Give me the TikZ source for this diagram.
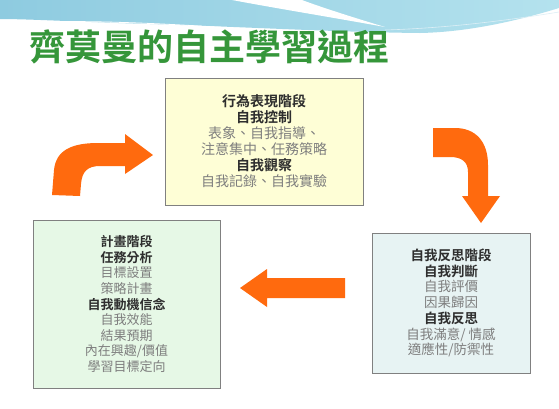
\documentclass[tikz,border=0pt]{standalone}
\usepackage{fontspec}
\newfontfamily\cjk{Noto Sans CJK TC}[BoldFont={Noto Sans CJK TC Bold}]
\definecolor{titlegreen}{HTML}{35963A}
\definecolor{arrorange}{HTML}{FF6A0E}
\definecolor{boxyellow}{HTML}{FEFED6}
\definecolor{boxgreen}{HTML}{E6F8E6}
\definecolor{boxblue}{HTML}{E7F3F3}
\definecolor{skyA}{HTML}{8ECBE0}
\definecolor{skyB}{HTML}{B4E2EE}
\definecolor{darktxt}{HTML}{2E2E2E}
\definecolor{lighttxt}{HTML}{7E7E7E}
\tikzset{
  stagebox/.style={draw=black!50, line width=0.9pt, align=center, inner sep=0pt, font=\cjk},
  blockarrow/.style={fill=arrorange, draw=none},
}
\newcommand{\hd}[1]{{\bfseries\color{darktxt}#1}}
\newcommand{\lt}[1]{{\color{lighttxt}#1}}
\begin{document}
\begin{tikzpicture}[x=1pt,y=-1pt]
\useasboundingbox (0,0) rectangle (559,408);
\fill[white] (0,0) rectangle (559,408);
% sky band
\shade[left color=skyA, right color=skyB] (0,0) -- (559,0) -- (559,8) .. controls (520,20) and (470,32) .. (420,33) .. controls (330,32) and (250,27) .. (150,24) .. controls (80,22) and (30,19) .. (0,19) -- cycle;
\fill[white] (232,0) .. controls (280,9) and (330,17) .. (385,27) .. controls (345,15) and (315,5) .. (302,0) -- cycle;
\draw[white, line width=0.8pt] (0,24) .. controls (60,19) and (150,22) .. (260,30);
\draw[white!70!skyA, line width=0.6pt] (385,30) .. controls (450,28) and (510,20) .. (559,12);
% title
\node[font=\cjk\bfseries\fontsize{36}{40}\selectfont, text=titlegreen, anchor=west, inner sep=0pt] (title) at (29,47) {齊莫曼的自主學習過程};
% boxes
\node[stagebox, fill=boxyellow, minimum width=198pt, minimum height=127pt, font=\cjk\fontsize{14}{16}\selectfont] (perf) at (264,141.5)
 {\hd{行為表現階段}\\ \hd{自我控制}\\ \lt{表象、自我指導、}\\ \lt{注意集中、任務策略}\\ \hd{自我觀察}\\ \lt{自我記錄、自我實驗}};
\node[stagebox, fill=boxgreen, minimum width=187pt, minimum height=168pt, font=\cjk\fontsize{13}{15.6}\selectfont] (plan) at (126.5,304)
 {\hd{計畫階段}\\ \hd{任務分析}\\ \lt{目標設置}\\ \lt{策略計畫}\\ \hd{自我動機信念}\\ \lt{自我效能}\\ \lt{結果預期}\\ \lt{內在興趣/價值}\\ \lt{學習目標定向}};
\node[stagebox, fill=boxblue, minimum width=158pt, minimum height=140pt, font=\cjk\fontsize{13.5}{15.7}\selectfont] (refl) at (451,303)
 {\hd{自我反思階段}\\ \hd{自我判斷}\\ \lt{自我評價}\\ \lt{因果歸因}\\ \hd{自我反思}\\ \lt{自我滿意/ 情感}\\ \lt{適應性/防禦性}};
% arrows
\fill[blockarrow] (52,195) -- (54,170) .. controls (56,150) and (72,143) .. (98,143) -- (125,143) -- (125,134) -- (153,155) -- (125,174) -- (125,166) -- (100,166) .. controls (88,166) and (82,171) .. (81,184) -- (80,196) -- cycle;
\fill[blockarrow] (433,128) -- (455,128) .. controls (476,128) and (488,142) .. (488,165) -- (488,196) -- (500,196) -- (481,223) -- (462,196) -- (468,196) -- (468,172) .. controls (468,162) and (462,157) .. (450,157) -- (433,157) -- cycle;
\fill[blockarrow] (345,278) -- (267,278) -- (267,269) -- (240,288) -- (267,307) -- (267,298) -- (345,298) -- cycle;
\end{tikzpicture}
\end{document}
